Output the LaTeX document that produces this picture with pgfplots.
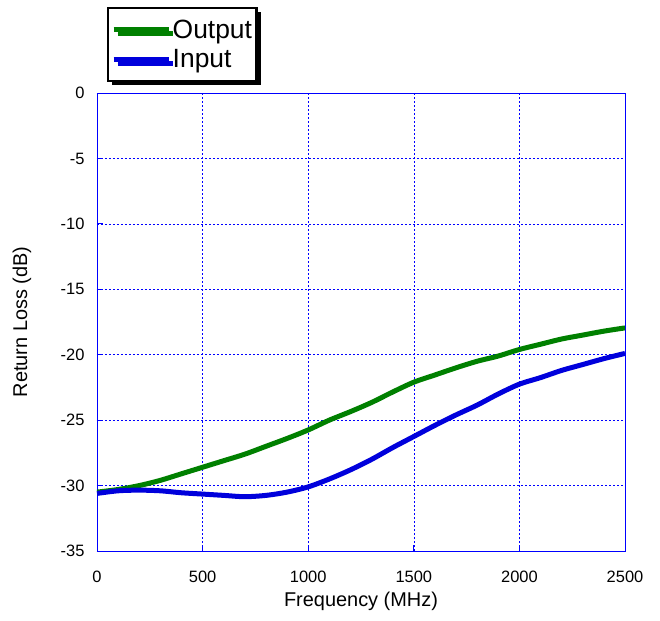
\documentclass[border=0pt]{standalone}
\usepackage{pgfplots}
\pgfplotsset{compat=1.18}
\usepackage{fontspec}
\setmainfont{Liberation Sans}
\usetikzlibrary{shadows}
\definecolor{outgreen}{RGB}{0,128,0}
\definecolor{inblue}{RGB}{0,0,220}
\begin{document}
\begin{tikzpicture}
\begin{axis}[
  name=ax,
  scale only axis,
  width=528bp, height=458bp,
  xmin=0, xmax=2500, ymin=-35, ymax=0,
  xtick={0,500,...,2500}, ytick={-35,-30,...,0},
  tick pos=left, tick align=inside,
  major tick length=6bp,
  axis line style={blue, line width=0.8bp},
  tick style={blue, line width=0.8bp},
  grid=major,
  grid style={blue, line width=0.6bp, dash pattern=on 2bp off 2bp},
  /pgf/number format/assume math mode=true,
  /pgf/number format/set thousands separator={},
  ticklabel style={font=\fontsize{16.5}{19}\selectfont},
  xticklabel style={yshift=-17bp},
  yticklabel style={xshift=-9bp},
  xlabel={Frequency (MHz)},
  ylabel={Return Loss (dB)},
  every axis x label/.style={at={(axis description cs:0.5,0)}, yshift=-50bp, anchor=center, font=\fontsize{20}{24}\selectfont},
  every axis y label/.style={at={(axis description cs:0,0.5)}, xshift=-75bp, rotate=90, anchor=center, font=\fontsize{20}{24}\selectfont},
  legend style={at={(0,1)}, anchor=north west, xshift=10bp, yshift=86bp,
    draw=black, line width=2.5bp, fill=white,
    drop shadow={shadow xshift=4bp, shadow yshift=-4bp, fill=black, opacity=1},
    font=\fontsize{26.5}{30}\selectfont, inner xsep=3bp, inner ysep=10bp,
    row sep=7bp,
    nodes={inner sep=1.5bp},
    cells={anchor=west}},
  legend image code/.code={\draw[#1, line cap=butt] (0bp,0bp) -- (55bp,0bp);},
  legend cell align=left,
]
\addplot[outgreen, line width=5bp, smooth] coordinates {
(0,-30.5) (100,-30.3) (200,-30.0) (300,-29.6) (400,-29.1) (500,-28.6)
(600,-28.1) (700,-27.6) (800,-27.0) (900,-26.4) (1000,-25.75) (1100,-25.0)
(1200,-24.35) (1300,-23.65) (1400,-22.85) (1500,-22.1) (1600,-21.55)
(1700,-21.0) (1800,-20.5) (1900,-20.1) (2000,-19.6) (2100,-19.2)
(2200,-18.8) (2300,-18.5) (2400,-18.2) (2500,-17.95)};
\addlegendentry{Output}
\addplot[inblue, line width=5bp, smooth] coordinates {
(0,-30.6) (100,-30.4) (200,-30.35) (300,-30.4) (400,-30.55) (500,-30.65)
(600,-30.75) (700,-30.85) (800,-30.75) (900,-30.5) (1000,-30.1) (1100,-29.5)
(1200,-28.8) (1300,-28.0) (1400,-27.1) (1500,-26.25) (1600,-25.4)
(1700,-24.6) (1800,-23.85) (1900,-23.0) (2000,-22.25) (2100,-21.75)
(2200,-21.2) (2300,-20.75) (2400,-20.3) (2500,-19.9)};
\addlegendentry{Input}
\end{axis}
\path[use as bounding box] ([xshift=-97bp,yshift=-70bp]ax.south west) rectangle ([xshift=35bp,yshift=93bp]ax.north east);
\end{tikzpicture}
\end{document}
